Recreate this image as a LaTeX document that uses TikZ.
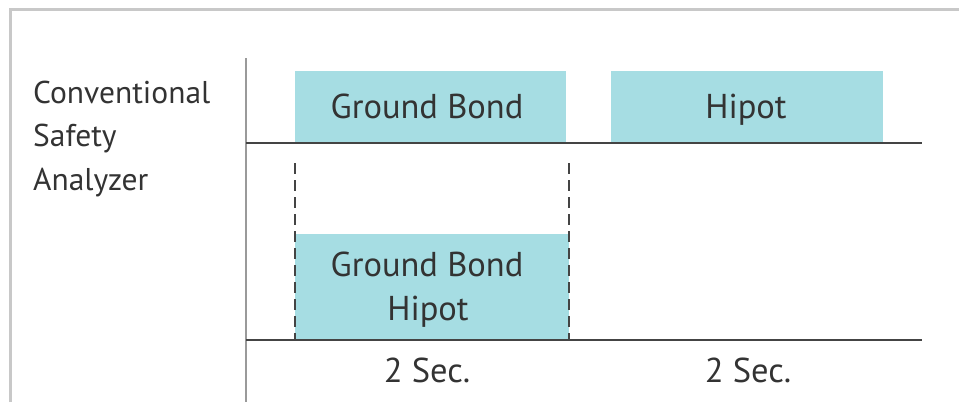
\documentclass[tikz,border=0pt]{standalone}
\usepackage{fontspec}
\setmainfont{PT Sans}
\definecolor{boxfill}{HTML}{A6DDE3}
\definecolor{txt}{HTML}{333333}
\definecolor{framegray}{HTML}{C8C8C8}
\definecolor{axisgray}{HTML}{9A9A9A}
\definecolor{linedark}{HTML}{444444}
\begin{document}
\begin{tikzpicture}[x=1pt,y=-1pt,
  lbl/.style={font=\fontsize{34.5}{43}\selectfont, text=txt, inner sep=0pt, anchor=base},
  side/.style={font=\fontsize{31.5}{44}\selectfont, text=txt, inner sep=0pt, anchor=base west},
  bar/.style={fill=boxfill, draw=none},
  rule/.style={draw=linedark, line width=2pt},
  guide/.style={draw=linedark, line width=2pt, dash pattern=on 11pt off 6pt}]
\useasboundingbox (0,0) rectangle (959,402);
% frame
\draw[framegray, line width=3pt] (10,402) -- (10,9) -- (959,9);
% axis
\draw[axisgray, line width=1.5pt] (246,58) -- (246,402);
% bars
\path[bar] (295,71) rectangle (566,142);
\path[bar] (611,71) rectangle (883,142);
\path[bar] (295,234) rectangle (569,339);
\node[lbl] (gb) at (427,118) {Ground Bond};
\node[lbl] (hp) at (746,118) {Hipot};
\node[lbl] (gb2) at (427,276) {Ground Bond};
\node[lbl] (hp2) at (428,320) {Hipot};
% rules
\coordinate (r1a) at (246,143); \coordinate (r1b) at (922,143);
\coordinate (r2a) at (246,340); \coordinate (r2b) at (922,340);
\draw[rule] (r1a) -- (r1b);
\draw[rule] (r2a) -- (r2b);
% dashed guides
\coordinate (d1a) at (295,163); \coordinate (d1b) at (295,339);
\coordinate (d2a) at (569,163); \coordinate (d2b) at (569,339);
\draw[guide] (d1a) -- (d1b);
\draw[guide] (d2a) -- (d2b);
% labels
\node[side] (n1) at (33,103) {Conventional};
\node[side] (n2) at (33,146) {Safety};
\node[side] (n3) at (33,190) {Analyzer};
\node[lbl] (t1) at (427,382) {2 Sec.};
\node[lbl] (t2) at (748,382) {2 Sec.};
\end{tikzpicture}
\end{document}
